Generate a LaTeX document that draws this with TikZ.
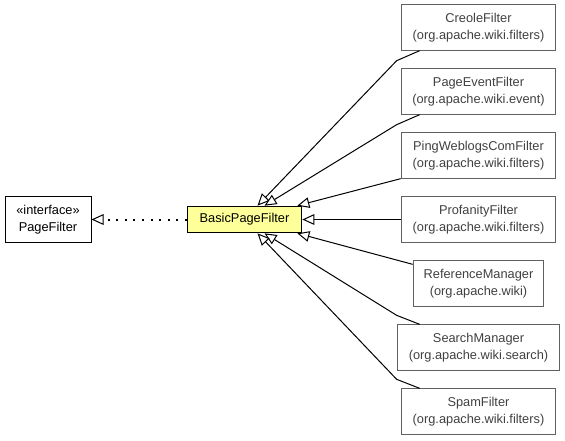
\documentclass[tikz,border=0pt]{standalone}
\usepackage{fontspec}
\setmainfont{Liberation Sans}
\usetikzlibrary{calc,arrows.meta}
\definecolor{notefill}{RGB}{255,255,153}
\definecolor{pkggray}{RGB}{96,96,96}
\definecolor{pkgtext}{RGB}{64,64,64}

\begin{document}
\begin{tikzpicture}[x=0.75pt, y=-0.75pt,
	every node/.style={font=\fontsize{9.6}{13}\selectfont, align=center, inner sep=0pt},
	cls/.style={draw=pkggray, text=pkgtext, line width=0.75pt, minimum height=34pt},
	impl/.style={line width=0.75pt, -{Triangle[open, length=9pt, width=8pt, fill=white]}}]
	\useasboundingbox (0,0) rectangle (565,440);
	\node[draw, line width=0.75pt, minimum width=64.5pt, minimum height=34pt] (pf) at (48,219.5) {«interface»\\PageFilter};
	\node[draw, fill=notefill, line width=0.75pt, minimum width=86pt, minimum height=20pt] (bpf) at (244.5,219.5) {BasicPageFilter};
	\node[cls, minimum width=116pt] (creole) at (478.5,27.5) {CreoleFilter\\(org.apache.wiki.filters)};
	\node[cls, minimum width=116pt] (pageevent) at (478.5,91.5) {PageEventFilter\\(org.apache.wiki.event)};
	\node[cls, minimum width=116pt] (ping) at (478.5,155.5) {PingWeblogsComFilter\\(org.apache.wiki.filters)};
	\node[cls, minimum width=116pt] (profanity) at (478.5,219.5) {ProfanityFilter\\(org.apache.wiki.filters)};
	\node[cls, minimum width=98pt] (ref) at (478.5,283.5) {ReferenceManager\\(org.apache.wiki)};
	\node[cls, minimum width=122pt] (search) at (478.5,347.5) {SearchManager\\(org.apache.wiki.search)};
	\node[cls, minimum width=116pt] (spam) at (478.5,411.5) {SpamFilter\\(org.apache.wiki.filters)};
	% realization
	\draw[line width=1.5pt, dash pattern=on 1.5pt off 4.9pt, -{Triangle[open, length=9pt, width=8pt, fill=white, line width=0.75pt]}] (bpf.west) -- (pf.east);
	% subclasses
	\draw[impl] ($(creole.south west)+(19,0)$) -- ($(creole.south west)+(-4,10)$) -- ($(bpf.north)+(13,0)$);
	\draw[impl] ($(pageevent.south west)+(19,0)$) -- ($(pageevent.south west)+(-4,10)$) -- ($(bpf.north)+(20,0)$);
	\draw[impl] (ping.south west) -- ($(bpf.north east)+(-5,0)$);
	\draw[impl] (profanity.west) -- (bpf.east);
	\draw[impl] ($(ref.north west)+(0,4)$) -- ($(bpf.south east)+(-5,0)$);
	\draw[impl] ($(search.north west)+(23,0)$) -- ($(search.north west)+(0,-9)$) -- ($(bpf.south)+(20,0)$);
	\draw[impl] ($(spam.north west)+(19,0)$) -- ($(spam.north west)+(-4,-9)$) -- ($(bpf.south)+(13,0)$);
\end{tikzpicture}
\end{document}
